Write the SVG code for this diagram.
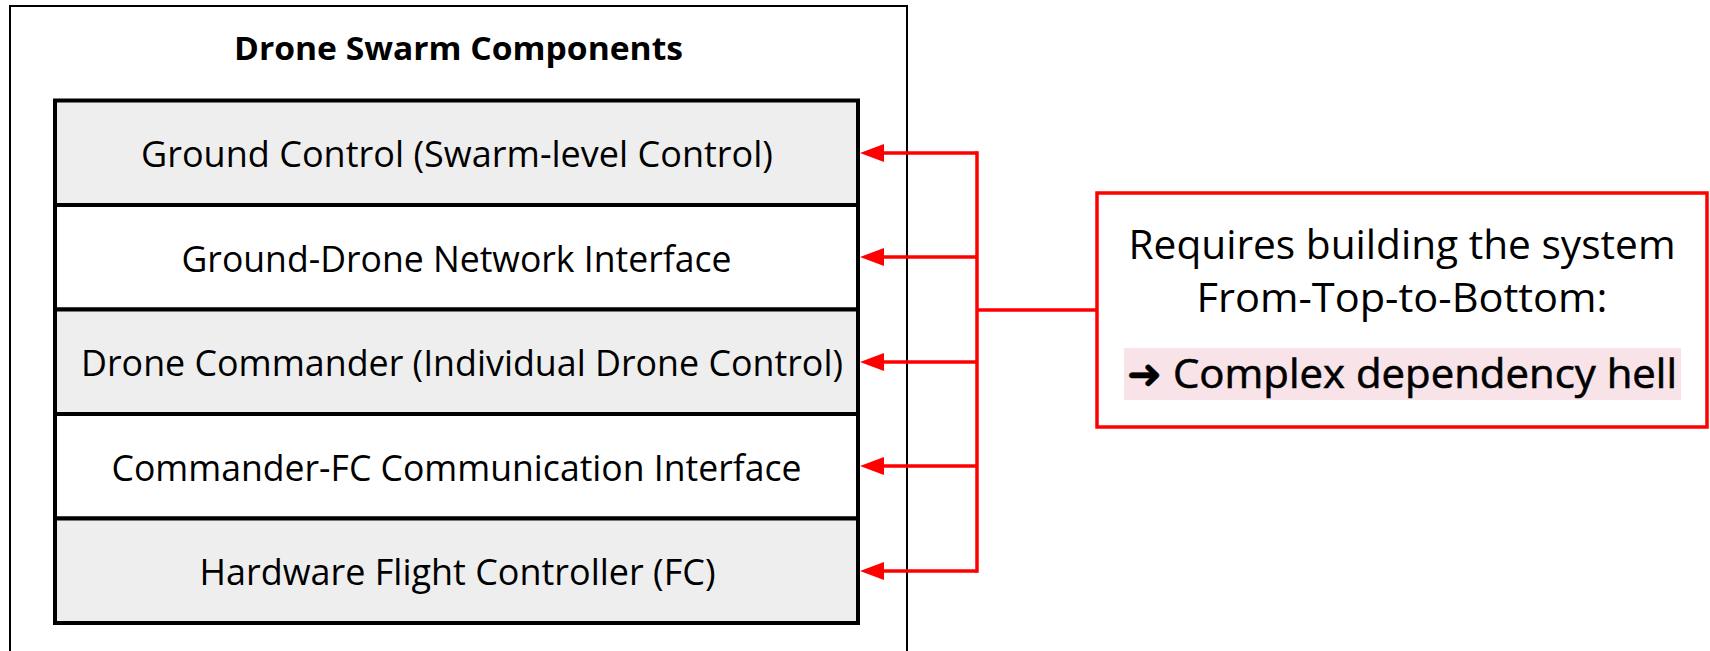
<svg xmlns="http://www.w3.org/2000/svg" width="1710" height="651" viewBox="0 0 1710 651">
  <style>
    .frame { fill: #ffffff; stroke: #000000; stroke-width: 2; }
    .layer { stroke: #000000; stroke-width: 4; }
    .shade { fill: #eeeeee; }
    .plain { fill: #ffffff; }
    .title { font-family: "Open Sans", "Liberation Sans", sans-serif; font-weight: 700; font-size: 33px; fill: #000000; }
    .label { font-family: "Open Sans", "Liberation Sans", sans-serif; font-size: 36px; fill: #000000; }
    .note { font-family: "Open Sans", "Liberation Sans", sans-serif; font-size: 40px; fill: #000000; }
    .note-strong { font-family: "Open Sans", "Liberation Sans", "DejaVu Sans", sans-serif; font-size: 41px; font-weight: 500; fill: #000000; stroke: #000000; stroke-width: 0.6; }
    .link { fill: none; stroke: #ff0000; stroke-width: 3.5; }
  </style>
  <defs>
    <marker id="redHead" markerUnits="userSpaceOnUse" viewBox="0 0 24 18" refX="0" refY="9" markerWidth="24" markerHeight="18" orient="auto">
      <path d="M0,0 L24,9 L0,18 Z" fill="#ff0000"/>
    </marker>
  </defs>

  <rect width="1710" height="651" fill="#ffffff"/>

  <!-- container with its heading -->
  <g id="swarm-components">
    <rect class="frame" x="10" y="6" width="897" height="660"/>
    <text class="title" x="458.5" y="59.5" text-anchor="middle" textLength="449" lengthAdjust="spacingAndGlyphs">Drone Swarm Components</text>
  </g>

  <!-- stacked layers, top to bottom -->
  <g id="ground-control">
    <rect class="layer shade" x="55" y="100.5" width="803" height="104.5"/>
    <text class="label" x="457" y="166.5" text-anchor="middle" textLength="632" lengthAdjust="spacingAndGlyphs">Ground Control (Swarm-level Control)</text>
  </g>
  <g id="ground-drone-network">
    <rect class="layer plain" x="55" y="205" width="803" height="104.5"/>
    <text class="label" x="456.5" y="271.5" text-anchor="middle" textLength="550" lengthAdjust="spacingAndGlyphs">Ground-Drone Network Interface</text>
  </g>
  <g id="drone-commander">
    <rect class="layer shade" x="55" y="309.5" width="803" height="104.5"/>
    <text class="label" x="462" y="375.7" text-anchor="middle" textLength="762" lengthAdjust="spacingAndGlyphs">Drone Commander (Individual Drone Control)</text>
  </g>
  <g id="commander-fc-interface">
    <rect class="layer plain" x="55" y="414" width="803" height="104.5"/>
    <text class="label" x="456.5" y="481" text-anchor="middle" textLength="690" lengthAdjust="spacingAndGlyphs">Commander-FC Communication Interface</text>
  </g>
  <g id="flight-controller">
    <rect class="layer shade" x="55" y="518.5" width="803" height="104.5"/>
    <text class="label" x="457.5" y="585" text-anchor="middle" textLength="516" lengthAdjust="spacingAndGlyphs">Hardware Flight Controller (FC)</text>
  </g>

  <!-- callout -->
  <g id="dependency-note">
    <rect x="1097" y="193" width="610" height="234" fill="#ffffff" stroke="#ff0000" stroke-width="3.5"/>
    <text class="note" x="1402" y="259" text-anchor="middle" textLength="547" lengthAdjust="spacingAndGlyphs">Requires building the system</text>
    <text class="note" x="1402" y="312" text-anchor="middle" textLength="411" lengthAdjust="spacingAndGlyphs">From-Top-to-Bottom:</text>
    <rect x="1124" y="348" width="557" height="52" fill="#f7e3e8"/>
    <text class="note-strong" x="1402" y="388" text-anchor="middle" textLength="550" lengthAdjust="spacingAndGlyphs">➜ Complex dependency hell</text>
  </g>

  <!-- connectors from the callout to every layer -->
  <g id="connectors">
    <path class="link" d="M1097,310 H977"/>
    <path class="link" d="M977,153 V571" stroke-linecap="square"/>
    <path class="link" d="M977,153 H884" marker-end="url(#redHead)"/>
    <path class="link" d="M977,257 H884" marker-end="url(#redHead)"/>
    <path class="link" d="M977,362 H884" marker-end="url(#redHead)"/>
    <path class="link" d="M977,466 H884" marker-end="url(#redHead)"/>
    <path class="link" d="M977,571 H884" marker-end="url(#redHead)"/>
  </g>
</svg>
